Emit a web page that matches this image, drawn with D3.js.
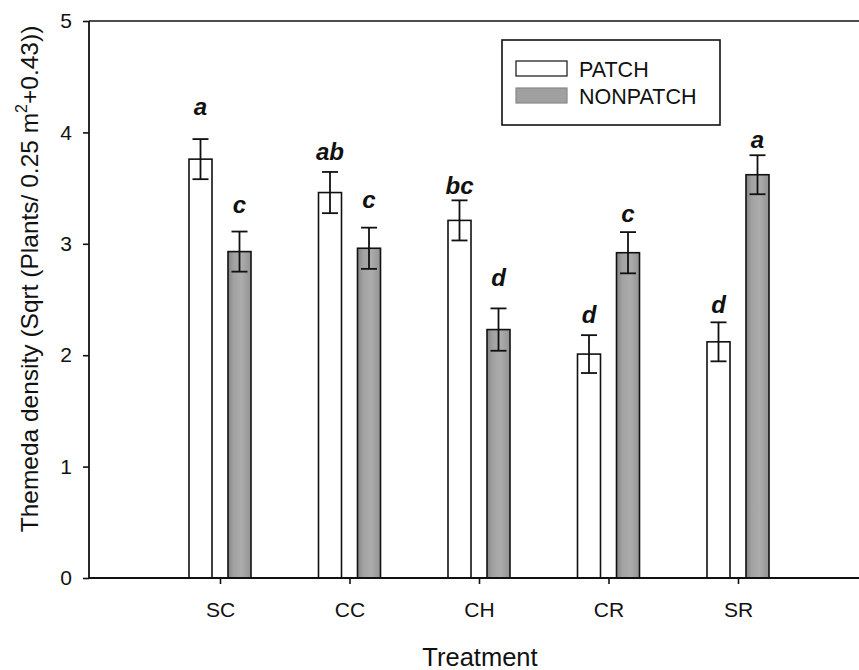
<!DOCTYPE html>
<html>
<head>
<meta charset="utf-8">
<script src="https://cdn.jsdelivr.net/npm/d3@7"></script>
<style>
  body { margin: 0; background: #fff; }
  svg { display: block; font-family: Arial, "Liberation Sans", Helvetica, sans-serif; }
</style>
</head>
<body>
<svg id="chart" width="859" height="670"></svg>
<script>
// ---- data ----
const categories = ["SC", "CC", "CH", "CR", "SR"];
const seriesNames = ["PATCH", "NONPATCH"];
const patchValues = [3.76, 3.46, 3.21, 2.01, 2.12];
const patchErrors = [0.18, 0.185, 0.18, 0.17, 0.175];
const nonpatchValues = [2.93, 2.96, 2.23, 2.92, 3.62];
const nonpatchErrors = [0.18, 0.185, 0.19, 0.185, 0.175];
const patchLetters = ["a", "ab", "bc", "d", "d"];
const nonpatchLetters = ["c", "c", "d", "c", "a"];
const patchLetterHeights = [4.16, 3.75, 3.45, 2.29, 2.38];
const nonpatchLetterHeights = [3.28, 3.32, 2.62, 3.20, 3.86];
const yTicks = [0, 1, 2, 3, 4, 5];
const yTitle = "Themeda density (Sqrt (Plants/ 0.25 m";
const xTitle = "Treatment";

(function () {
// ---- layout ----
const svg = d3.select("#chart");
const pLeft = 89, pRight = 859, pTop = 21, pBottom = 578;
const x = d3.scaleLinear().domain([0, categories.length - 1]).range([220, 738]);
const y = d3.scaleLinear().domain([0, 5]).range([pBottom, pTop]);
const barW = 23, offset = 19.5;

const defs = svg.append("defs");
const grad = defs.append("linearGradient").attr("id", "gray").attr("x1", "0").attr("x2", "1").attr("y1", "0").attr("y2", "0");
grad.append("stop").attr("offset", "0%").attr("stop-color", "#858585");
grad.append("stop").attr("offset", "25%").attr("stop-color", "#a2a2a2");
grad.append("stop").attr("offset", "60%").attr("stop-color", "#acacac");
grad.append("stop").attr("offset", "100%").attr("stop-color", "#939393");

const series = [
  { name: seriesNames[0], values: patchValues, errs: patchErrors, letters: patchLetters, lh: patchLetterHeights, dx: -offset, fill: "#fff" },
  { name: seriesNames[1], values: nonpatchValues, errs: nonpatchErrors, letters: nonpatchLetters, lh: nonpatchLetterHeights, dx: offset, fill: "url(#gray)" }
];

// bars
series.forEach(s => {
  const g = svg.append("g");
  g.selectAll("rect").data(s.values).join("rect")
    .attr("x", (d, i) => x(i) + s.dx - barW / 2)
    .attr("y", d => y(d))
    .attr("width", barW)
    .attr("height", d => y(0) - y(d))
    .attr("fill", s.fill)
    .attr("stroke", "#111")
    .attr("stroke-width", 1.6);
  const eb = svg.append("g").attr("stroke", "#111").attr("stroke-width", 1.8);
  s.values.forEach((v, i) => {
    const cx = x(i) + s.dx;
    eb.append("line").attr("x1", cx).attr("x2", cx).attr("y1", y(v + s.errs[i])).attr("y2", y(v - s.errs[i]));
    eb.append("line").attr("x1", cx - 8).attr("x2", cx + 8).attr("y1", y(v + s.errs[i])).attr("y2", y(v + s.errs[i]));
    eb.append("line").attr("x1", cx - 8).attr("x2", cx + 8).attr("y1", y(v - s.errs[i])).attr("y2", y(v - s.errs[i]));
  });
  svg.append("g").selectAll("text").data(s.letters).join("text")
    .attr("x", (d, i) => x(i) + s.dx)
    .attr("y", (d, i) => y(s.lh[i]))
    .attr("text-anchor", "middle")
    .attr("font-size", 24)
    .attr("font-weight", "bold")
    .attr("font-style", "italic")
    .attr("fill", "#111")
    .text(d => d);
});

// frame lines
svg.append("line").attr("x1", pLeft).attr("x2", pRight).attr("y1", pTop).attr("y2", pTop).attr("stroke", "#111").attr("stroke-width", 1.6);
svg.append("line").attr("x1", pLeft).attr("x2", pLeft).attr("y1", pTop).attr("y2", pBottom).attr("stroke", "#111").attr("stroke-width", 1.8);
svg.append("line").attr("x1", pLeft).attr("x2", pRight).attr("y1", pBottom).attr("y2", pBottom).attr("stroke", "#111").attr("stroke-width", 1.8);

// y axis
const yAxis = svg.append("g").attr("transform", `translate(${pLeft},0)`)
  .call(d3.axisLeft(y).tickValues(yTicks).tickFormat(d3.format("d")).tickSize(6).tickPadding(11));
yAxis.select(".domain").remove();
yAxis.selectAll(".tick line").attr("stroke", "#111").attr("stroke-width", 1.6);
yAxis.selectAll(".tick text").attr("font-size", 21).attr("fill", "#111").attr("font-family", "Arial, 'Liberation Sans', sans-serif");

// x axis
const xAxis = svg.append("g").attr("transform", `translate(0,${pBottom})`)
  .call(d3.axisBottom(x).tickValues(d3.range(categories.length)).tickFormat(i => categories[i]).tickSize(6).tickPadding(18));
xAxis.select(".domain").remove();
xAxis.selectAll(".tick line").attr("stroke", "#111").attr("stroke-width", 1.6);
xAxis.selectAll(".tick text").attr("font-size", 21).attr("fill", "#111").attr("font-family", "Arial, 'Liberation Sans', sans-serif");

// axis titles
const yt = svg.append("text")
  .attr("transform", `translate(38,279) rotate(-90)`)
  .attr("text-anchor", "middle")
  .attr("font-size", 24.5)
  .attr("fill", "#111");
yt.append("tspan").text(yTitle);
yt.append("tspan").attr("font-size", 16).attr("dy", -11).text("2");
yt.append("tspan").attr("dy", 11).text("+0.43))");

svg.append("text").attr("x", 480).attr("y", 666).attr("text-anchor", "middle")
  .attr("font-size", 25.5).attr("fill", "#111").text(xTitle);

// legend
const lg = svg.append("g");
lg.append("rect").attr("x", 502).attr("y", 40).attr("width", 218).attr("height", 85)
  .attr("fill", "#fff").attr("stroke", "#111").attr("stroke-width", 1.6);
series.forEach((s, i) => {
  const yy = 61 + i * 27;
  lg.append("rect").attr("x", 516).attr("y", yy).attr("width", 51).attr("height", 15)
    .attr("fill", i === 0 ? "#fff" : "#a0a0a0").attr("stroke", i === 0 ? "#111" : "#888").attr("stroke-width", 1.2);
  lg.append("text").attr("x", 579).attr("y", yy + 16).attr("font-size", 21.5).attr("fill", "#111").text(s.name);
});
})();
</script>
</body>
</html>
